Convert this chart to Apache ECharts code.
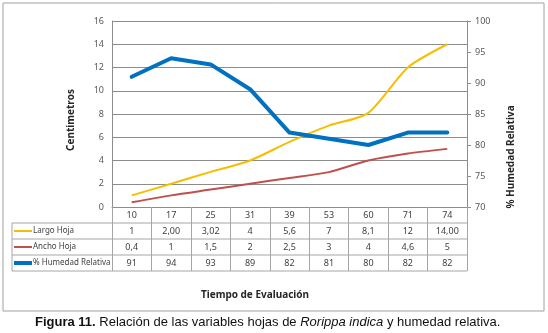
<!DOCTYPE html>
<html>
<head>
<meta charset="utf-8">
<script src="https://cdn.jsdelivr.net/npm/echarts@6/dist/echarts.min.js"></script>
<style>
  html, body { margin: 0; padding: 0; background: #fff; }
  #chart { width: 548px; height: 333px; }
</style>
</head>
<body>
<div id="chart"></div>
<script>
// datos
const dias = ['10', '17', '25', '31', '39', '53', '60', '71', '74'];
const largoHoja = [1, 2, 3.02, 4, 5.6, 7, 8.1, 12, 14];
const anchoHoja = [0.4, 1, 1.5, 2, 2.5, 3, 4, 4.6, 5];
const humedad = [91, 94, 93, 89, 82, 81, 80, 82, 82];

// texto tal como aparece en la tabla de datos
const largoTxt = ['1', '2,00', '3,02', '4', '5,6', '7', '8,1', '12', '14,00'];
const anchoTxt = ['0,4', '1', '1,5', '2', '2,5', '3', '4', '4,6', '5'];
const humedadTxt = ['91', '94', '93', '89', '82', '81', '80', '82', '82'];

const colores = ['#F5BE00', '#C0504D', '#0070C0'];
const nombres = ['Largo Hoja', 'Ancho Hoja', '% Humedad Relativa'];

const chart = echarts.init(document.getElementById('chart'));

const option = {
  animation: false,
  grid: { left: 112, right: 81, top: 21, bottom: 126 },
  xAxis: {
    type: 'category',
    data: dias,
    boundaryGap: true,
    axisLine: { lineStyle: { color: '#8c8c8c' } },
    axisTick: { show: true, length: 64, lineStyle: { color: '#a6a6a6' } },
    axisLabel: { color: '#404040', fontSize: 9, fontFamily: 'Noto Sans', margin: 4 }
  },
  yAxis: [
    {
      type: 'value',
      min: 0, max: 16, interval: 2,
      axisLine: { show: true, lineStyle: { color: '#8c8c8c' } },
      axisTick: { show: false },
      axisLabel: { color: '#595959', fontSize: 9, fontFamily: 'Noto Sans', margin: 8 },
      splitLine: { lineStyle: { color: '#8c8c8c', width: 1 } }
    },
    {
      type: 'value',
      min: 70, max: 100, interval: 5,
      position: 'right',
      axisLine: { show: true, lineStyle: { color: '#8c8c8c' } },
      axisTick: { show: true, inside: false, length: 4, lineStyle: { color: '#8c8c8c' } },
      axisLabel: { color: '#595959', fontSize: 9, fontFamily: 'Noto Sans', margin: 8 },
      splitLine: { show: false }
    }
  ],
  series: [
    {
      name: nombres[0], type: 'line', yAxisIndex: 0, data: largoHoja,
      symbol: 'none', smooth: 0.25,
      lineStyle: { color: colores[0], width: 2 }
    },
    {
      name: nombres[1], type: 'line', yAxisIndex: 0, data: anchoHoja,
      symbol: 'none', smooth: 0.25,
      lineStyle: { color: colores[1], width: 2 }
    },
    {
      name: nombres[2], type: 'line', yAxisIndex: 1, data: humedad,
      symbol: 'none',
      lineStyle: { color: colores[2], width: 4, cap: 'round', join: 'round' }
    }
  ]
};

chart.setOption(option);

// tabla de datos bajo el eje, posiciones tomadas de la escala del eje x
const filas = [largoTxt, anchoTxt, humedadTxt];
const yEje = chart.convertToPixel({ yAxisIndex: 0 }, 0);
const xIni = 12;
const xFin = chart.convertToPixel({ xAxisIndex: 0 }, dias.length - 1) +
  (chart.convertToPixel({ xAxisIndex: 0 }, 1) - chart.convertToPixel({ xAxisIndex: 0 }, 0)) / 2;
const alto = 16;
const graficos = [];

for (let r = 0; r < filas.length; r++) {
  const yTop = yEje + alto * (r + 1);
  const yMid = yTop + alto / 2;
  graficos.push({
    type: 'line', shape: { x1: xIni, y1: yTop, x2: xFin, y2: yTop },
    style: { stroke: '#a6a6a6', lineWidth: 1 }
  });
  graficos.push({
    type: 'line', shape: { x1: 14, y1: yMid, x2: 32, y2: yMid },
    style: { stroke: colores[r], lineWidth: r === 2 ? 4 : 2 }
  });
  graficos.push({
    type: 'text', x: 33, y: yMid,
    style: { text: nombres[r], fill: '#404040', fontSize: 8, fontFamily: 'Noto Sans', verticalAlign: 'middle' }
  });
  for (let i = 0; i < dias.length; i++) {
    graficos.push({
      type: 'text',
      x: chart.convertToPixel({ xAxisIndex: 0 }, i),
      y: yMid,
      style: { text: filas[r][i], fill: '#404040', fontSize: 9, fontFamily: 'Noto Sans', align: 'center', verticalAlign: 'middle' }
    });
  }
}
const yFondo = yEje + alto * 4;
graficos.push({
  type: 'line', shape: { x1: xIni, y1: yFondo, x2: xFin, y2: yFondo },
  style: { stroke: '#a6a6a6', lineWidth: 1 }
});
graficos.push({
  type: 'line', shape: { x1: xIni, y1: yEje + alto, x2: xIni, y2: yFondo },
  style: { stroke: '#a6a6a6', lineWidth: 1 }
});

// marco exterior y titulos
graficos.push({
  type: 'rect', shape: { x: 3, y: 3, width: 541, height: 308 },
  style: { fill: 'none', stroke: '#a0a0a0', lineWidth: 1 }, z: -1
});
graficos.push({
  type: 'text', x: 71, y: 120, rotation: Math.PI / 2,
  style: { text: 'Centimetros', fontSize: 10, fontWeight: 'bold', fontFamily: 'Noto Sans', fill: '#262626', align: 'center', verticalAlign: 'middle' }
});
graficos.push({
  type: 'text', x: 511, y: 157, rotation: Math.PI / 2,
  style: { text: '% Humedad Relativa', fontSize: 10, fontWeight: 'bold', fontFamily: 'Noto Sans', fill: '#262626', align: 'center', verticalAlign: 'middle' }
});
graficos.push({
  type: 'text', x: 255, y: 295,
  style: { text: 'Tiempo de Evaluación', fontSize: 10, fontWeight: 'bold', fontFamily: 'Noto Sans', fill: '#262626', align: 'center', verticalAlign: 'middle' }
});
graficos.push({
  type: 'text', x: 35, y: 322,
  style: {
    text: '{b|Figura 11.} Relación de las variables hojas de {i|Rorippa indica} y humedad relativa.',
    fontSize: 13, fontFamily: 'Liberation Sans', fill: '#111', verticalAlign: 'middle',
    rich: {
      b: { fontSize: 13, fontWeight: 'bold', fontFamily: 'Liberation Sans', fill: '#111' },
      i: { fontSize: 13, fontStyle: 'italic', fontFamily: 'Liberation Sans', fill: '#111' }
    }
  }
});

chart.setOption({ graphic: graficos });
</script>
</body>
</html>
